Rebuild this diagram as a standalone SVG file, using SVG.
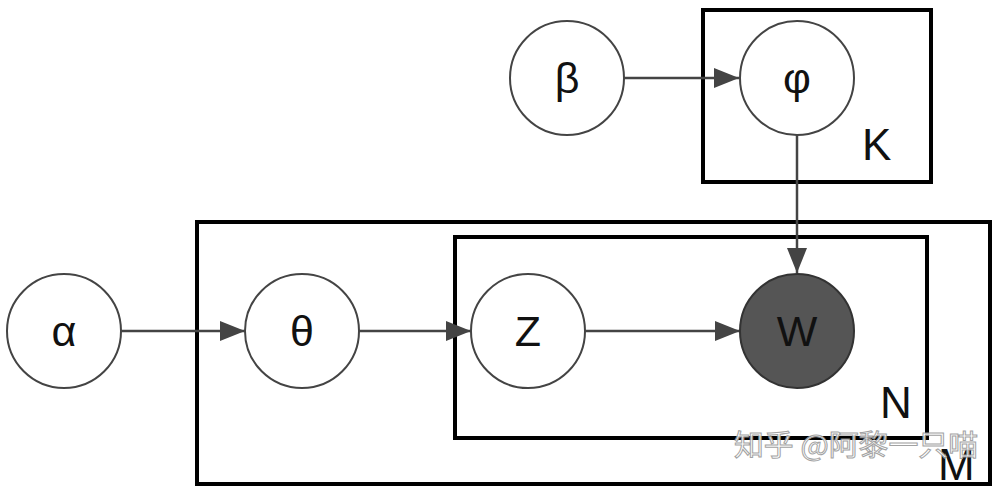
<svg xmlns="http://www.w3.org/2000/svg" width="1004" height="488" viewBox="0 0 1004 488">
<style>
.node{fill:#fff;stroke:#444;stroke-width:2}
.obs{fill:#555;stroke:#333;stroke-width:2}
.plate{fill:none;stroke:#000;stroke-width:4}
.lbl{font-family:"Liberation Sans",Arial,sans-serif;font-size:43px;fill:#111;text-anchor:middle;dominant-baseline:central}
.plbl{font-family:"Liberation Sans",Arial,sans-serif;font-size:44px;fill:#111}
.edge{stroke:#444;stroke-width:2.5;fill:none;marker-end:url(#ah)}
.wm{font-family:"Noto Sans CJK SC","Liberation Sans",sans-serif;font-size:29px;fill:#fff;stroke:#999;stroke-width:1;opacity:0.9}
</style>
<defs>
<marker id="ah" markerWidth="10" markerHeight="8" refX="10" refY="4" orient="auto" markerUnits="strokeWidth">
<path d="M0,0 L10,4 L0,8 z" fill="#444"/>
</marker>
</defs>
<rect width="1004" height="488" fill="#fff"/>
<g id="plate-K"><rect class="plate" x="703" y="10" width="228" height="172"/><text class="plbl" x="862" y="160">K</text></g>
<g id="plate-M"><rect class="plate" x="197" y="222" width="793" height="262"/><text class="plbl" x="938" y="480">M</text></g>
<g id="plate-N"><rect class="plate" x="455" y="237" width="472" height="201"/><text class="plbl" x="880" y="418">N</text></g>
<g id="edges">
<line class="edge" x1="121" y1="331" x2="245" y2="331"/>
<line class="edge" x1="359" y1="331" x2="471" y2="331"/>
<line class="edge" x1="585" y1="331" x2="740" y2="331"/>
<line class="edge" x1="624" y1="78" x2="739" y2="78"/>
<line class="edge" x1="797" y1="135" x2="797" y2="273"/>
</g>
<g id="node-alpha"><circle class="node" cx="64" cy="331" r="57"/><text class="lbl" x="64" y="331">α</text></g>
<g id="node-theta"><circle class="node" cx="302" cy="331" r="57"/><text class="lbl" x="302" y="331">θ</text></g>
<g id="node-Z"><circle class="node" cx="528" cy="331" r="57"/><text class="lbl" x="528" y="331">Z</text></g>
<g id="node-W"><circle class="obs" cx="797" cy="331" r="57"/><text class="lbl" x="797" y="331">W</text></g>
<g id="node-beta"><circle class="node" cx="567" cy="78" r="57"/><text class="lbl" x="567" y="78">β</text></g>
<g id="node-phi"><circle class="node" cx="797" cy="78" r="57"/><text class="lbl" x="797" y="78">φ</text></g>
<text class="wm" x="734" y="456" textLength="244" lengthAdjust="spacingAndGlyphs">知乎 @阿黎一只喵</text>
</svg>
